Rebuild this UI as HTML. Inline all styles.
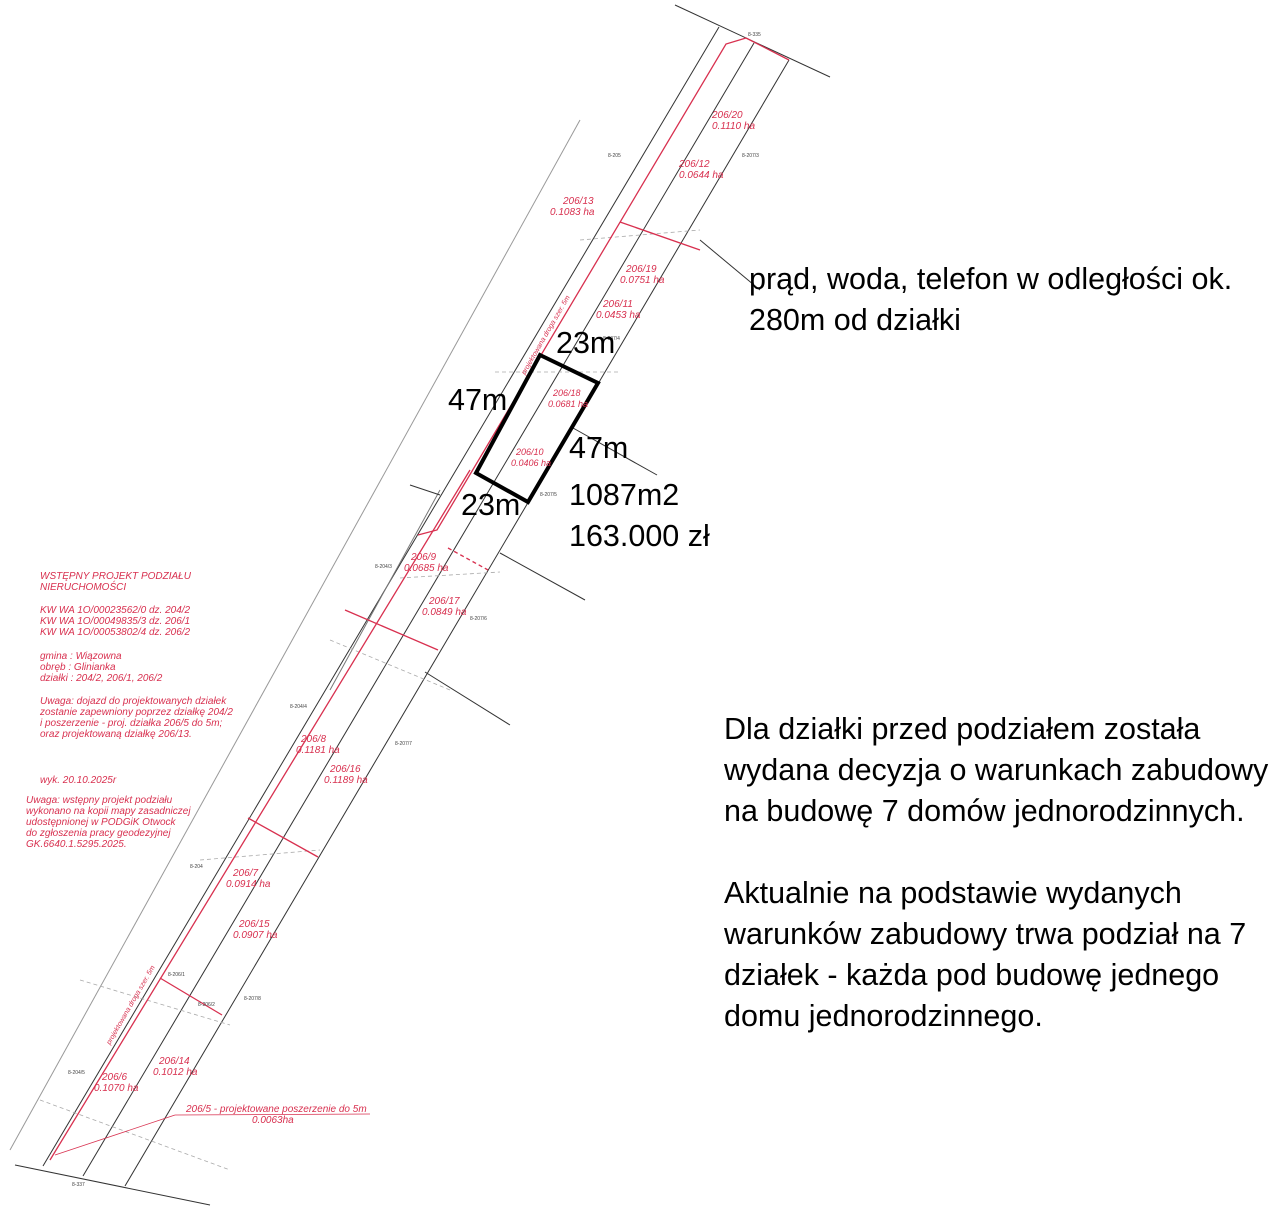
<!DOCTYPE html>
<html><head><meta charset="utf-8"><style>
html,body{margin:0;padding:0;background:#fff;}
svg{display:block}
.r{fill:#d8304f;font-family:"Liberation Sans",sans-serif;font-style:italic;font-size:10px}
.b{fill:#000;font-family:"Liberation Sans","DejaVu Sans",sans-serif;font-size:30.5px}
.s{fill:#444;font-family:"Liberation Sans",sans-serif;font-size:5px}
</style></head><body>
<svg width="1280" height="1231" viewBox="0 0 1280 1231" xmlns="http://www.w3.org/2000/svg">
<g stroke="#333" stroke-width="1" fill="none">
<line x1="675" y1="5" x2="830" y2="77"/>
<line x1="580" y1="120" x2="10" y2="1150" stroke="#999"/>
<line x1="719" y1="27" x2="43" y2="1166"/>
<line x1="754" y1="43" x2="83" y2="1176"/>
<line x1="789" y1="60" x2="125" y2="1186"/>
<line x1="15" y1="1165" x2="210" y2="1205"/>
<line x1="440" y1="490" x2="330" y2="690" stroke="#777"/>
<line x1="700" y1="240" x2="760" y2="290"/>
<line x1="573" y1="428" x2="657" y2="475"/>
<line x1="500" y1="553" x2="585" y2="600"/>
<line x1="425" y1="672" x2="510" y2="725"/>
<line x1="410" y1="485" x2="440" y2="495"/>
</g>
<g stroke="#aaa" stroke-width="0.8" stroke-dasharray="4,3" fill="none">
<line x1="580" y1="240" x2="700" y2="230"/>
<line x1="495" y1="372" x2="620" y2="372"/>
<line x1="400" y1="578" x2="500" y2="572"/>
<line x1="330" y1="640" x2="450" y2="690"/>
<line x1="200" y1="860" x2="320" y2="850"/>
<line x1="40" y1="1100" x2="230" y2="1170"/>
<line x1="80" y1="980" x2="230" y2="1025"/>
</g>
<g stroke="#d8304f" stroke-width="1.3" fill="none">
<line x1="746" y1="38" x2="789" y2="60"/>
<polyline points="746,38 726,44 437,530 418,535"/>
<line x1="470" y1="470" x2="50" y2="1160"/>
<line x1="620" y1="222" x2="700" y2="250"/>
<line x1="345" y1="610" x2="438" y2="650"/>
<line x1="248" y1="818" x2="318" y2="857"/>
<line x1="160" y1="978" x2="222" y2="1015"/>
<line x1="448" y1="548" x2="488" y2="570" stroke-dasharray="4,3"/>
<line x1="55" y1="1155" x2="175" y2="1115" stroke-width="0.8"/>
<line x1="175" y1="1115" x2="370" y2="1114" stroke-width="0.8"/>
</g>
<polygon points="540,355 598,383 528,502 476,473" fill="none" stroke="#000" stroke-width="4"/>
<g class="r">
<text x="712" y="118">206/20</text><text x="712" y="129">0.1110 ha</text>
<text x="679" y="167">206/12</text><text x="679" y="178">0.0644 ha</text>
<text x="563" y="204">206/13</text><text x="550" y="215">0.1083 ha</text>
<text x="626" y="272">206/19</text><text x="620" y="283">0.0751 ha</text>
<text x="603" y="307">206/11</text><text x="596" y="318">0.0453 ha</text>
<text x="553" y="396" font-size="9">206/18</text><text x="548" y="407" font-size="9">0.0681 ha</text>
<text x="516" y="455" font-size="9">206/10</text><text x="511" y="466" font-size="9">0.0406 ha</text>
<text x="411" y="560">206/9</text><text x="404" y="571">0.0685 ha</text>
<text x="429" y="604">206/17</text><text x="422" y="615">0.0849 ha</text>
<text x="301" y="742">206/8</text><text x="296" y="753">0.1181 ha</text>
<text x="330" y="772">206/16</text><text x="324" y="783">0.1189 ha</text>
<text x="233" y="876">206/7</text><text x="226" y="887">0.0914 ha</text>
<text x="239" y="927">206/15</text><text x="233" y="938">0.0907 ha</text>
<text x="159" y="1064">206/14</text><text x="153" y="1075">0.1012 ha</text>
<text x="102" y="1080">206/6</text><text x="94" y="1091">0.1070 ha</text>
<text x="186" y="1112">206/5 - projektowane poszerzenie do 5m</text>
<text x="252" y="1123">0.0063ha</text>
<text x="40" y="579">WSTĘPNY PROJEKT PODZIAŁU</text><text x="40" y="590">NIERUCHOMOŚCI</text>
<text x="40" y="613">KW WA 1O/00023562/0 dz. 204/2</text>
<text x="40" y="624">KW WA 1O/00049835/3 dz. 206/1</text>
<text x="40" y="635">KW WA 1O/00053802/4 dz. 206/2</text>
<text x="40" y="659">gmina : Wiązowna</text>
<text x="40" y="670">obręb  : Glinianka</text>
<text x="40" y="681">działki : 204/2, 206/1, 206/2</text>
<text x="40" y="704">Uwaga: dojazd do projektowanych działek</text>
<text x="40" y="715">zostanie zapewniony poprzez działkę  204/2</text>
<text x="40" y="726">i poszerzenie - proj. działka 206/5 do 5m;</text>
<text x="40" y="737">oraz projektowaną działkę 206/13.</text>
<text x="40" y="783">wyk. 20.10.2025r</text>
<text x="26" y="803">Uwaga: wstępny projekt podziału</text>
<text x="26" y="814">wykonano na kopii mapy zasadniczej</text>
<text x="26" y="825">udostępnionej w PODGiK Otwock</text>
<text x="26" y="836">do zgłoszenia pracy geodezyjnej</text>
<text x="26" y="847">GK.6640.1.5295.2025.</text>
<text transform="translate(525,375) rotate(-60)" font-size="7">projektowana droga szer. 5m</text>
<text transform="translate(110,1045) rotate(-60)" font-size="7">projektowana droga szer. 5m</text>
</g>
<g class="s">
<text x="748" y="36">8-335</text><text x="742" y="157">8-207/3</text><text x="608" y="157">8-205</text>
<text x="603" y="340">8-207/4</text><text x="540" y="496">8-207/5</text><text x="470" y="620">8-207/6</text>
<text x="395" y="745">8-207/7</text><text x="244" y="1000">8-207/8</text><text x="168" y="976">8-206/1</text>
<text x="198" y="1006">8-206/2</text><text x="72" y="1186">8-337</text><text x="375" y="568">8-204/3</text>
<text x="290" y="708">8-204/4</text><text x="190" y="868">8-204</text><text x="68" y="1074">8-204/5</text>
</g>
<g class="b">
<text x="556" y="353">23m</text>
<text x="448" y="410">47m</text>
<text x="569" y="458">47m</text>
<text x="461" y="515">23m</text>
<text x="569" y="505">1087m2</text>
<text x="569" y="546">163.000 zł</text>
<text x="749" y="289">prąd, woda, telefon w odległości ok.</text>
<text x="749" y="330">280m od działki</text>
<text x="724" y="739">Dla działki przed podziałem została</text>
<text x="724" y="780">wydana decyzja o warunkach zabudowy</text>
<text x="724" y="821">na budowę 7 domów jednorodzinnych.</text>
<text x="724" y="903">Aktualnie na podstawie wydanych</text>
<text x="724" y="944">warunków zabudowy trwa podział na 7</text>
<text x="724" y="985">działek - każda pod budowę jednego</text>
<text x="724" y="1026">domu jednorodzinnego.</text>
</g>
</svg>
</body></html>
